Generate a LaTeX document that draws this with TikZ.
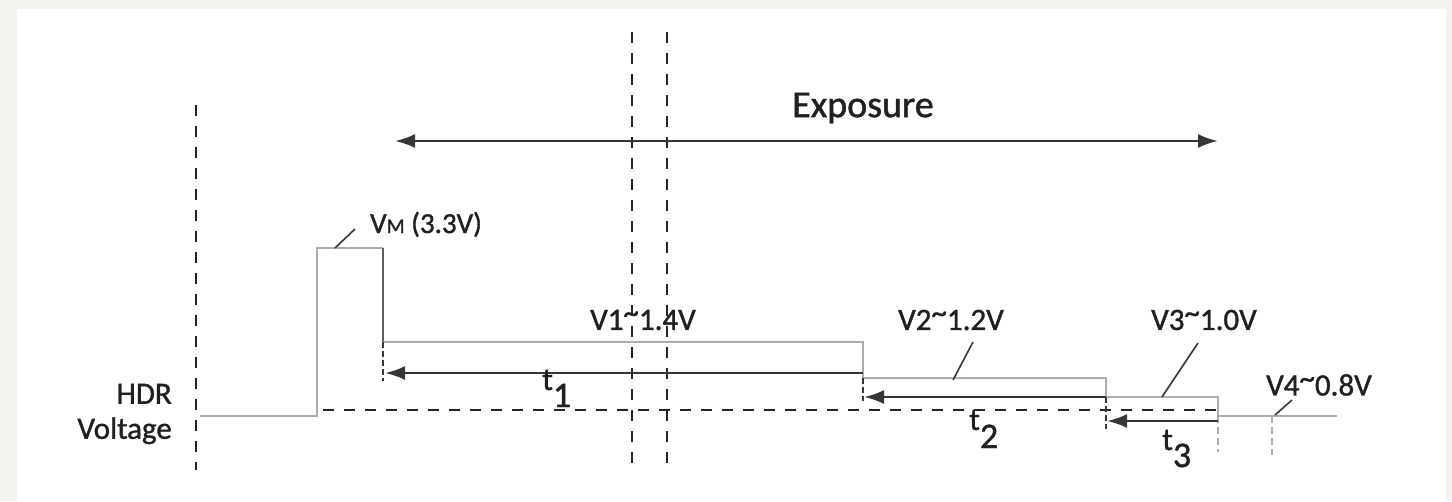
\documentclass[tikz,border=0pt]{standalone}
\usepackage{fontspec}
\setmainfont[FakeBold=1.2]{Carlito}
\usetikzlibrary{arrows.meta}
\definecolor{bggray}{HTML}{F3F2EE}
\definecolor{lvlgray}{HTML}{ADADAD}
\definecolor{arrgray}{HTML}{363636}
\definecolor{dashblack}{HTML}{262626}
\definecolor{txt}{HTML}{231F20}
\newcommand{\hitilde}{\raisebox{7pt}{\textasciitilde}}
\begin{document}
\begin{tikzpicture}[x=1pt,y=-1pt,
  lvl/.style={draw=lvlgray, line width=2.2pt},
  edge/.style={draw=arrgray!80, line width=2.2pt},
  arr/.style={draw=arrgray, line width=2.6pt, -{Latex[length=20pt,width=14pt]}},
  dsh/.style={draw=dashblack, line width=2.6pt, dash pattern=on 11pt off 10pt},
  tickd/.style={draw=arrgray, line width=1.4pt, dash pattern=on 6pt off 3pt},
  tickl/.style={draw=lvlgray, line width=1.4pt, dash pattern=on 7pt off 4pt},
  lead/.style={draw=arrgray, line width=1.6pt},
  lbl/.style={text=txt, font=\fontsize{31}{31}\selectfont, inner sep=0pt},
  tlbl/.style={text=txt, font=\fontsize{32}{32}\selectfont, inner sep=0pt, anchor=base west},
]
\fill[bggray] (0,0) rectangle (1452,501);
\fill[white] (17,9) rectangle (1446,501);
\useasboundingbox (0,0) rectangle (1452,501);

% waveform points
\coordinate (b0) at (200,416);
\coordinate (p0) at (317,416);
\coordinate (p1) at (317,248);
\coordinate (p2) at (383,248);
\coordinate (v1a) at (383,342);
\coordinate (v1b) at (863,342);
\coordinate (v2a) at (863,378);
\coordinate (v2b) at (1106,378);
\coordinate (v3a) at (1106,397);
\coordinate (v3b) at (1218,397);
\coordinate (v4a) at (1218,416);
\coordinate (v4b) at (1337,416);

% dashed guides
\coordinate (gl0) at (196,105); \coordinate (gl1) at (196,470);
\coordinate (ga0) at (632,32);  \coordinate (ga1) at (632,470);
\coordinate (gb0) at (667,32);  \coordinate (gb1) at (667,470);
\coordinate (h0) at (323,410);  \coordinate (h1) at (1218,410);
\draw[dsh] (gl0) -- (gl1);
\draw[dsh] (ga0) -- (ga1);
\draw[dsh] (gb0) -- (gb1);
\draw[dsh, line width=2.2pt] (h0) -- (h1);

% waveform
\draw[lvl, line join=miter] (b0) -- (p0) -- (p1) -- (p2);
\draw[edge] (p2) -- (v1a);
\draw[lvl, line join=miter] (v1a) -- (v1b) -- (v2a) -- (v2b) -- (v3a) -- (v3b) -- (v4a) -- (v4b);

% end ticks
\coordinate (k1a) at (383,342);  \coordinate (k1b) at (383,381);
\coordinate (k2a) at (863,378);  \coordinate (k2b) at (863,401);
\coordinate (k3a) at (1106,397); \coordinate (k3b) at (1106,429);
\coordinate (k4a) at (1218,416); \coordinate (k4b) at (1218,452);
\coordinate (k5a) at (1272,416); \coordinate (k5b) at (1272,455);
\draw[tickd] (k1a) -- (k1b);
\draw[tickd] (k2a) -- (k2b);
\draw[tickd] (k3a) -- (k3b);
\draw[tickl] (k4a) -- (k4b);
\draw[tickl] (k5a) -- (k5b);

% time arrows
\coordinate (a1s) at (863,373);  \coordinate (a1e) at (385,373);
\coordinate (a2s) at (1106,397); \coordinate (a2e) at (864,397);
\coordinate (a3s) at (1218,421); \coordinate (a3e) at (1107,421);
\draw[arr] (a1s) -- (a1e);
\draw[arr] (a2s) -- (a2e);
\draw[arr] (a3s) -- (a3e);

% exposure arrow
\coordinate (e0) at (395,141); \coordinate (e1) at (1218,141);
\draw[arr, {Latex[length=20pt,width=14pt]}-{Latex[length=20pt,width=14pt]}] (e0) -- (e1);
\node[lbl, font=\fontsize{38}{38}\selectfont] (exp) at (863,108) {Exposure};

% leaders
\coordinate (l1a) at (335,248);  \coordinate (l1b) at (355,229);
\coordinate (l2a) at (953,380);  \coordinate (l2b) at (973,342);
\coordinate (l3a) at (1162,397); \coordinate (l3b) at (1198,343);
\coordinate (l4a) at (1275,415); \coordinate (l4b) at (1292,400);
\draw[lead] (l1a) -- (l1b);
\draw[lead] (l2a) -- (l2b);
\draw[lead] (l3a) -- (l3b);
\draw[lead] (l4a) -- (l4b);

% labels
\node[lbl, align=right, anchor=east, font=\fontsize{31}{35}\selectfont] (hdr) at (172,414) {HDR\\Voltage};
\node[lbl, anchor=base west, font=\fontsize{29}{29}\selectfont] (vm) at (370,233) {V{\fontsize{21}{21}\selectfont M} (3.3V)};
\node[lbl] (v1) at (643,320) {V1\hitilde 1.4V};
\node[lbl] (v2) at (951,320) {V2\hitilde 1.2V};
\node[lbl] (v3) at (1204,320) {V3\hitilde 1.0V};
\node[lbl] (v4) at (1319,385) {V4\hitilde 0.8V};
\node[tlbl] (t1) at (542,390) {t\raisebox{-17pt}{\fontsize{36}{36}\selectfont 1}};
\node[tlbl] (t2) at (969,430) {t\raisebox{-18pt}{\fontsize{36}{36}\selectfont 2}};
\node[tlbl] (t3) at (1162,450) {t\raisebox{-17pt}{\fontsize{36}{36}\selectfont 3}};
\end{tikzpicture}
\end{document}
